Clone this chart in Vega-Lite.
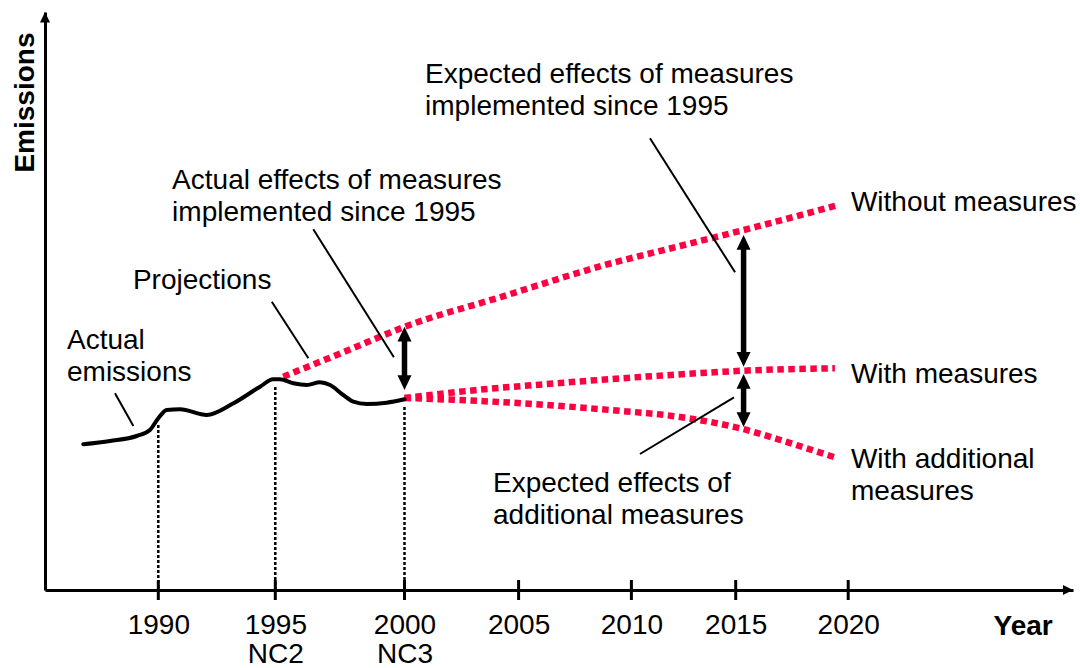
{
  "$schema": "https://vega.github.io/schema/vega-lite/v6.json",
  "width": 1028,
  "height": 578,
  "autosize": {"type": "none"},
  "padding": {"left": 45, "top": 12, "right": 7, "bottom": 78},
  "background": "white",
  "config": {"view": {"stroke": null}, "font": "Liberation Sans", "axis": {"grid": false}},
  "datasets": {
    "actual": [
      {"year": 1986.69, "v": 145.7}, {"year": 1987.87, "v": 149}, {"year": 1989.05, "v": 154},
      {"year": 1989.63, "v": 160}, {"year": 1990.0, "v": 171.7}, {"year": 1990.36, "v": 180},
      {"year": 1990.93, "v": 180.7}, {"year": 1992.07, "v": 175},
      {"year": 1993.21, "v": 186.7}, {"year": 1994.35, "v": 203.3},
      {"year": 1994.91, "v": 210.7}, {"year": 1995.18, "v": 210.7}, {"year": 1995.7, "v": 206.7},
      {"year": 1996.22, "v": 205}, {"year": 1996.73, "v": 207.7}, {"year": 1997.12, "v": 205},
      {"year": 1997.63, "v": 195}, {"year": 1998.02, "v": 188.3}, {"year": 1998.54, "v": 186},
      {"year": 1999.31, "v": 187.3}, {"year": 2000.0, "v": 190.7}
    ],
    "proj": [
      {"series": "Without measures", "year": 1995.31, "v": 213.3},
      {"series": "Without measures", "year": 1997.7, "v": 238.5},
      {"series": "Without measures", "year": 2000.1, "v": 264},
      {"series": "Without measures", "year": 2004.18, "v": 292.7},
      {"series": "Without measures", "year": 2008.83, "v": 325},
      {"series": "Without measures", "year": 2012.33, "v": 344},
      {"series": "Without measures", "year": 2015.93, "v": 363.3},
      {"series": "Without measures", "year": 2019.56, "v": 385},
      {"series": "With measures", "year": 2000.0, "v": 192},
      {"series": "With measures", "year": 2003.16, "v": 200},
      {"series": "With measures", "year": 2006.84, "v": 207},
      {"series": "With measures", "year": 2010.41, "v": 213},
      {"series": "With measures", "year": 2013.61, "v": 217.3},
      {"series": "With measures", "year": 2015.34, "v": 219.3},
      {"series": "With measures", "year": 2019.41, "v": 221.7},
      {"series": "With additional measures", "year": 2000.0, "v": 192},
      {"series": "With additional measures", "year": 2002.87, "v": 189.5},
      {"series": "With additional measures", "year": 2005.95, "v": 185.5},
      {"series": "With additional measures", "year": 2009.05, "v": 180},
      {"series": "With additional measures", "year": 2012.33, "v": 173},
      {"series": "With additional measures", "year": 2015.32, "v": 161},
      {"series": "With additional measures", "year": 2017.55, "v": 146},
      {"series": "With additional measures", "year": 2019.5, "v": 132}
    ],
    "verts": [
      {"year": 1990, "v": 165, "v2": 0},
      {"year": 1995, "v": 203, "v2": 0},
      {"year": 2000, "v": 183, "v2": 0}
    ],
    "ticks": [
      {"year": 1990, "v": 10, "v2": -10}, {"year": 1995, "v": 10, "v2": -10},
      {"year": 2000, "v": 10, "v2": -10}, {"year": 2005, "v": 10, "v2": -10},
      {"year": 2010, "v": 10, "v2": -10}, {"year": 2015, "v": 10, "v2": -10},
      {"year": 2020, "v": 10, "v2": -10}
    ],
    "leaders": [
      {"year": 1988.09, "v": 196.7, "year2": 1988.9, "v2": 164},
      {"year": 1994.85, "v": 288.3, "year2": 1996.28, "v2": 231.7},
      {"year": 1996.47, "v": 360.7, "year2": 1999.59, "v2": 232.7},
      {"year": 2010.89, "v": 451.7, "year2": 2014.97, "v2": 317.7},
      {"year": 2010.41, "v": 136, "year2": 2014.92, "v2": 192.7}
    ],
    "shafts": [
      {"year": 2000, "v": 263.3, "v2": 200},
      {"year": 2015.35, "v": 355, "v2": 223.3},
      {"year": 2015.35, "v": 216, "v2": 163}
    ],
    "heads": [
      {"year": 2000, "v": 263.3, "dir": "up"},
      {"year": 2000, "v": 200, "dir": "down"},
      {"year": 2015.35, "v": 355, "dir": "up"},
      {"year": 2015.35, "v": 223.3, "dir": "down"},
      {"year": 2015.35, "v": 216, "dir": "up"},
      {"year": 2015.35, "v": 163, "dir": "down"}
    ],
    "axisheads": [
      {"year": 1985, "v": 578, "dir": "up"},
      {"year": 2030, "v": 0, "dir": "right"}
    ],
    "labels": [
      {"year": 2000.9, "v": 507, "label": "Expected effects of measures\nimplemented since 1995"},
      {"year": 1990.59, "v": 401, "label": "Actual effects of measures\nimplemented since 1995"},
      {"year": 1988.88, "v": 301, "label": "Projections"},
      {"year": 1985.97, "v": 241, "label": "Actual\nemissions"},
      {"year": 2020.12, "v": 379.3, "label": "Without measures"},
      {"year": 2020.12, "v": 207.3, "label": "With measures"},
      {"year": 2020.12, "v": 121.7, "label": "With additional\nmeasures"},
      {"year": 2003.88, "v": 98.3, "label": "Expected effects of\nadditional measures"}
    ]
  },
  "encoding": {
    "x": {
      "field": "year", "type": "quantitative",
      "scale": {
        "domain": [1985, 1990, 1995, 2000, 2005, 2010, 2015, 2020, 2030],
        "range": [0, 113.3, 230.3, 359.5, 473.6, 586.4, 690.7, 803.2, 1028],
        "nice": false, "zero": false
      },
      "axis": {
        "title": "Year", "titleFontSize": 28, "titleFontWeight": "bold", "titleColor": "black",
        "titleX": 948, "titleY": 44, "titleAlign": "left", "titleBaseline": "alphabetic",
        "values": [1990, 1995, 2000, 2005, 2010, 2015, 2020],
        "format": "d",
        "labelExpr": "datum.value == 1995 ? ['1995', 'NC2'] : datum.value == 2000 ? ['2000', 'NC3'] : datum.label",
        "ticks": false, "tickSize": 0,
        "labelFontSize": 28, "labelColor": "black", "labelPadding": 43,
        "labelBaseline": "alphabetic", "labelLineHeight": 29,
        "labelFlush": false, "labelOverlap": false, "labelBound": false,
        "domainColor": "black", "domainWidth": 3, "grid": false
      }
    },
    "y": {
      "field": "v", "type": "quantitative",
      "scale": {"domain": [0, 578], "nice": false, "zero": false},
      "axis": {
        "title": "Emissions", "titleFontSize": 28, "titleFontWeight": "bold", "titleColor": "black",
        "titleAngle": 270, "titleX": -12, "titleY": 20, "titleAlign": "right", "titleBaseline": "alphabetic",
        "labels": false, "ticks": false, "tickSize": 0,
        "domainColor": "black", "domainWidth": 3, "grid": false
      }
    }
  },
  "layer": [
    {
      "data": {"name": "proj"},
      "mark": {"type": "line", "color": "#ff0040", "strokeWidth": 6.5, "strokeDash": [6.5, 4.5], "interpolate": "monotone", "strokeCap": "butt"},
      "encoding": {"detail": {"field": "series", "type": "nominal"}}
    },
    {
      "data": {"name": "actual"},
      "mark": {"type": "line", "color": "black", "strokeWidth": 4, "interpolate": "monotone", "strokeCap": "round"},
      "encoding": {}
    },
    {
      "data": {"name": "verts"},
      "mark": {"type": "rule", "color": "black", "strokeWidth": 2.5, "strokeDash": [3, 2]},
      "encoding": {"y2": {"field": "v2"}}
    },
    {
      "data": {"name": "ticks"},
      "mark": {"type": "rule", "color": "black", "strokeWidth": 3},
      "encoding": {"y2": {"field": "v2"}}
    },
    {
      "data": {"name": "leaders"},
      "mark": {"type": "rule", "color": "black", "strokeWidth": 2},
      "encoding": {"x2": {"field": "year2"}, "y2": {"field": "v2"}}
    },
    {
      "data": {"name": "shafts"},
      "mark": {"type": "rule", "color": "black", "strokeWidth": 5.5, "yOffset": 10, "y2Offset": -10},
      "encoding": {"y2": {"field": "v2"}}
    },
    {
      "data": {"name": "heads"},
      "mark": {"type": "point", "filled": true, "color": "black", "opacity": 1, "size": 196, "strokeWidth": 0},
      "encoding": {
        "shape": {
          "field": "dir", "type": "nominal", "legend": null,
          "scale": {"domain": ["up", "down", "right"], "range": ["M0,0L-1,2.1L1,2.1Z", "M0,0L-1,-2.1L1,-2.1Z", "M0,0L-2,-1L-2,1Z"]}
        }
      }
    },
    {
      "data": {"name": "axisheads"},
      "mark": {"type": "point", "filled": true, "color": "black", "opacity": 1, "size": 100, "strokeWidth": 0},
      "encoding": {
        "shape": {
          "field": "dir", "type": "nominal", "legend": null,
          "scale": {"domain": ["up", "down", "right"], "range": ["M0,0L-1,2L1,2Z", "M0,0L-1,-2L1,-2Z", "M0,0L-2,-1L-2,1Z"]}
        }
      }
    },
    {
      "data": {"name": "labels"},
      "mark": {"type": "text", "align": "left", "baseline": "alphabetic", "fontSize": 28, "lineBreak": "\n", "lineHeight": 32, "color": "black"},
      "encoding": {"text": {"field": "label", "type": "nominal"}}
    }
  ]
}
